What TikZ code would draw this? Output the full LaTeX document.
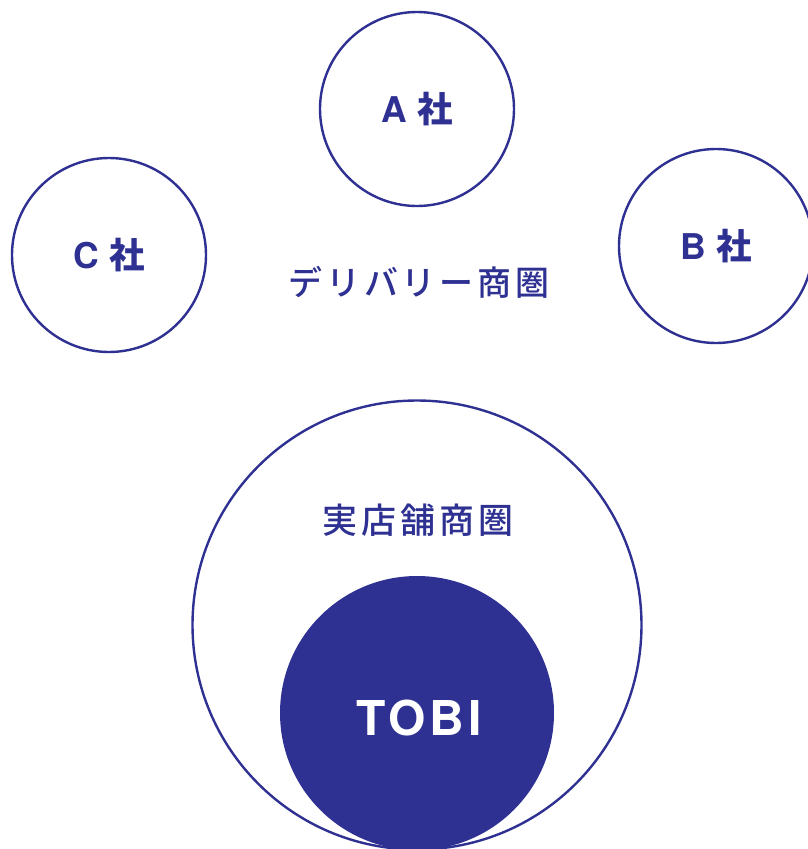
\documentclass[tikz,border=0pt]{standalone}
\usepackage{fontspec}
\newfontfamily\jpm[LetterSpace=11]{Noto Sans CJK JP Medium}
\newfontfamily\jpb{Noto Sans CJK JP Bold}
\newfontfamily\hel[LetterSpace=8]{TeX Gyre Heros}
\definecolor{navy}{HTML}{2E3192}
\begin{document}
\begin{tikzpicture}[x=1pt,y=-1pt,
  ring/.style={circle,draw=navy,line width=2.4pt,inner sep=0pt},
  lbl/.style={text=navy,inner sep=0pt},
  co/.style={lbl,font=\fontsize{35.5}{35.5}\selectfont},
]
\useasboundingbox (0,0) rectangle (808,849);
\begin{scope}
\clip (0,0) rectangle (808,849);
\node[ring,minimum size=194pt] (a) at (417,109) {};
\node[ring,minimum size=194pt] (c) at (109,255) {};
\node[ring,minimum size=194pt] (b) at (716,246) {};
\node[ring,minimum size=449pt] (shop) at (417,625) {};
\node[circle,fill=navy,minimum size=274pt,inner sep=0pt] (tobi) at (417,713) {};
\end{scope}
\node[co] at (a.center) {\hel\bfseries A\hspace{0.3em}\jpb 社};
\node[co] at (c.center) {\hel\bfseries C\hspace{0.3em}\jpb 社};
\node[co] at (b.center) {\hel\bfseries B\hspace{0.3em}\jpb 社};
\node[lbl,font=\jpm\fontsize{34}{34}\selectfont] (deli) at (419,282) {デリバリー商圏};
\node[lbl,font=\jpm\fontsize{35}{35}\selectfont] (real) at (418,520) {実店舗商圏};
\node[text=white,inner sep=0pt,font=\hel\bfseries\fontsize{48}{48}\selectfont] (t) at (419,718) {TOBI};
\end{tikzpicture}
\end{document}
